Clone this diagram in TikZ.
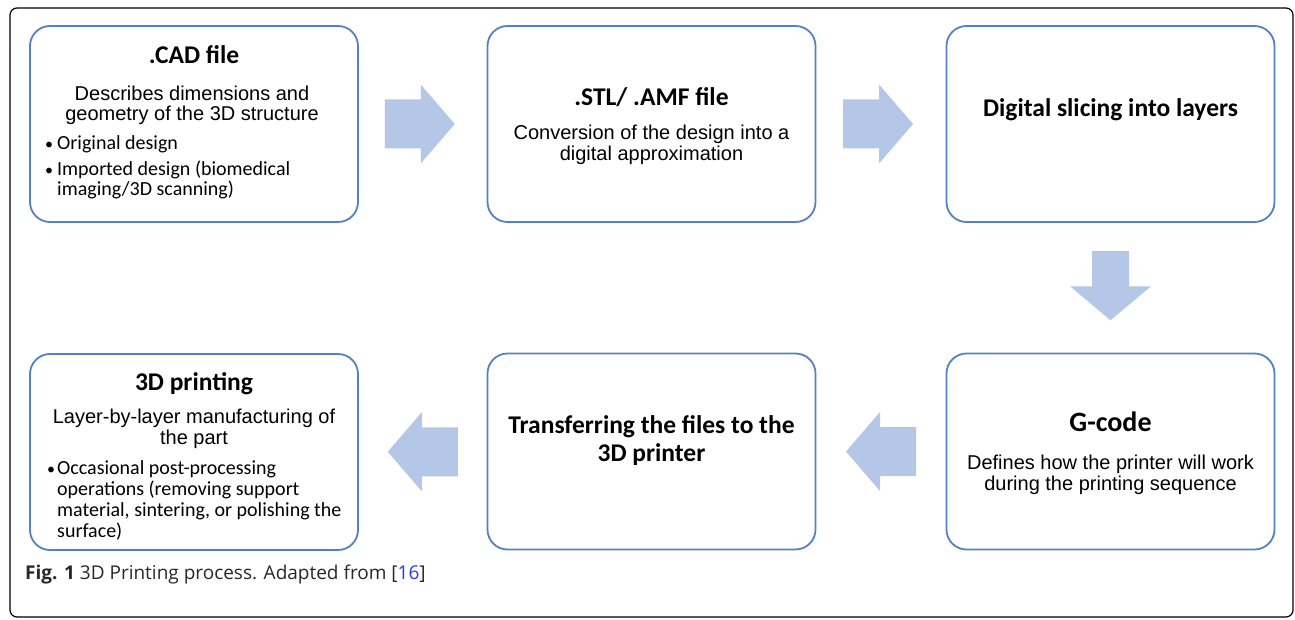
\documentclass[tikz,border=0pt]{standalone}
\usepackage{fontspec}
\setmainfont{Liberation Sans}
\newfontfamily\calfont{Carlito}
\newfontfamily\capfont{Open Sans}
\usetikzlibrary{calc}
\definecolor{boxline}{RGB}{84,130,190}
\definecolor{arrowfill}{RGB}{180,199,231}
\definecolor{captext}{RGB}{40,40,40}
\definecolor{reflink}{RGB}{40,60,230}
\tikzset{
  stepbox/.style={draw=boxline, line width=1.8pt, rounded corners=20pt, fill=white,
    minimum width=328pt, minimum height=196pt, inner sep=0pt},
  ttl/.style={font=\calfont\bfseries\fontsize{25.5}{28}\selectfont, anchor=base, inner sep=0pt},
  bigttl/.style={font=\calfont\bfseries\fontsize{28}{30}\selectfont, anchor=base, inner sep=0pt},
  body/.style={font=\fontsize{20}{20}\selectfont, anchor=base, inner sep=0pt},
  blt/.style={font=\calfont\fontsize{20}{20}\selectfont, anchor=base west, inner sep=0pt},
  bdot/.style={font=\calfont\fontsize{16}{16}\selectfont, anchor=base west, inner sep=0pt},
  blockarrow/.style={fill=arrowfill, draw=none},
  pics/rarrow/.style={code={\fill[blockarrow] (-35,-24.5) -- (1,-24.5) -- (1,-39.5) -- (35,0) -- (1,39.5) -- (1,24.5) -- (-35,24.5) -- cycle;}},
  pics/larrow/.style={code={\fill[blockarrow] (35,-24.5) -- (-1,-24.5) -- (-1,-39.5) -- (-35,0) -- (-1,39.5) -- (-1,24.5) -- (35,24.5) -- cycle;}},
  pics/darrow/.style={code={\fill[blockarrow] (-18.5,-34.5) -- (18.5,-34.5) -- (18.5,0.5) -- (40.5,0.5) -- (0,34.5) -- (-40.5,0.5) -- (-18.5,0.5) -- cycle;}},
}
\begin{document}
\begin{tikzpicture}[x=1pt,y=-1pt]
\useasboundingbox (0,0) rectangle (1295,620);
\fill[white] (0,0) rectangle (1295,620);
\draw[black, line width=1.2pt, rounded corners=7pt] (10,8) rectangle (1293,617);

% boxes
\node[stepbox] (b1) at (194,124) {};
\node[stepbox] (b2) at (651.5,124) {};
\node[stepbox] (b3) at (1110.5,124) {};
\node[stepbox] (b4) at (1110.5,451.5) {};
\node[stepbox] (b5) at (651.5,451.5) {};
\node[stepbox] (b6) at (194,452) {};

% block arrows between boxes
\path ($(b1.east)!0.5!(b2.west)$) ++(-3,0) pic {rarrow};
\path ($(b2.east)!0.5!(b3.west)$) ++(-3,0) pic {rarrow};
\path ($(b3.south)!0.5!(b4.north)$) ++(0,-2) pic {darrow};
\path ($(b4.west)!0.5!(b5.east)$) pic {larrow};
\path ($(b5.west)!0.5!(b6.east)$) pic {larrow};

% box 1
\node[ttl] (t1) at (194,64) {.CAD file};
\node[body] (d1a) at (192,101) {Describes dimensions and};
\node[body] (d1b) at (192,121) {geometry of the 3D structure};
\node[bdot] (p1a) at (45,150) {•};
\node[blt] (q1a) at (57,150) {Original design};
\node[bdot] (p1b) at (45,176) {•};
\node[blt] (q1b) at (57,176) {Imported design (biomedical};
\node[blt] (q1c) at (57,196) {imaging/3D scanning)};

% box 2
\node[ttl] (t2) at (651.5,106) {.STL/ .AMF file};
\node[body] (d2a) at (651.5,140) {Conversion of the design into a};
\node[body] (d2b) at (651.5,161) {digital approximation};

% box 3
\node[ttl] (t3) at (1110.5,117) {Digital slicing into layers};

% box 4
\node[bigttl] (t4) at (1110.5,431) {G-code};
\node[body] (d4a) at (1110.5,469) {Defines how the printer will work};
\node[body] (d4b) at (1110.5,490) {during the printing sequence};

% box 5
\node[ttl] (t5a) at (651.5,433) {Transferring the files to the};
\node[ttl] (t5b) at (651.5,461) {3D printer};

% box 6
\node[ttl] (t6) at (194,390) {3D printing};
\node[body] (d6a) at (194,423) {Layer-by-layer manufacturing of};
\node[body] (d6b) at (194,444) {the part};
\node[bdot] (p6a) at (47,474) {•};
\node[blt] (q6a) at (57,474) {Occasional post-processing};
\node[blt] (q6b) at (57,495) {operations (removing support};
\node[blt] (q6c) at (57,516) {material, sintering, or polishing the};
\node[blt] (q6d) at (57,537) {surface)};

% caption
\node[anchor=base west, inner sep=0pt, text=captext, font=\capfont\fontsize{19}{21}\selectfont] (cap) at (25,579)
  {\textbf{Fig. 1} 3D Printing process. Adapted from [\textcolor{reflink}{16}]};
\end{tikzpicture}
\end{document}
